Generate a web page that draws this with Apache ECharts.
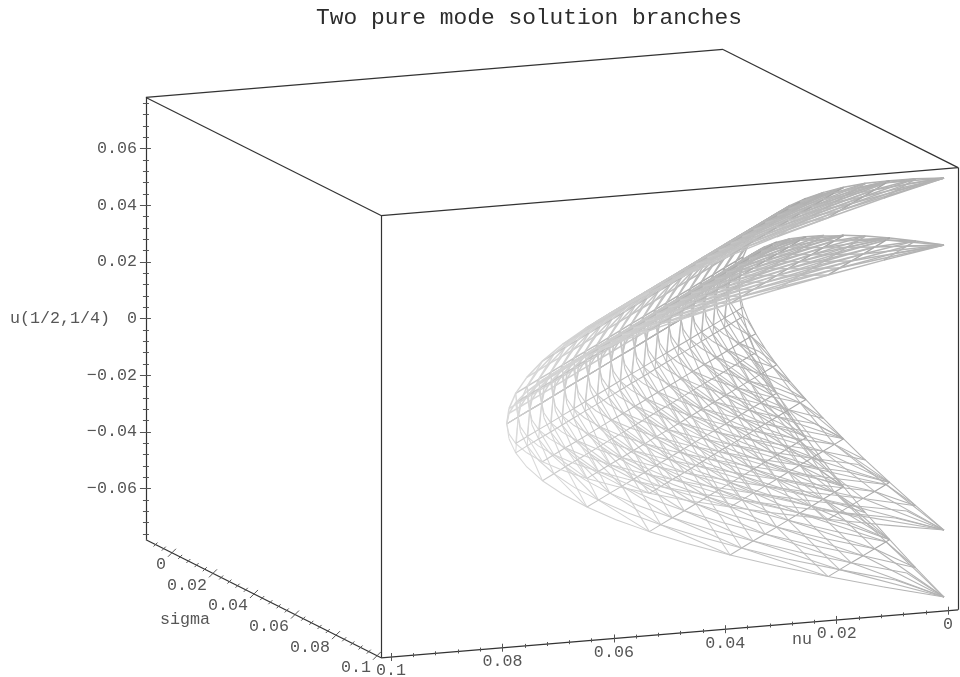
<!DOCTYPE html>
<html>
<head>
<meta charset="utf-8">
<style>html,body{margin:0;padding:0;background:#fff}#c{width:960px;height:677px}</style>
<script src="https://cdn.jsdelivr.net/npm/echarts@6/dist/echarts.min.js"></script>
</head>
<body>
<div id="c"></div>
<script>
// ---- values ----
const uTicks = [-0.06, -0.04, -0.02, 0, 0.02, 0.04, 0.06];
const uTickLabels = ['\u22120.06', '\u22120.04', '\u22120.02', '0', '0.02', '0.04', '0.06'];
const nuTicks = [0, 0.02, 0.04, 0.06, 0.08, 0.1];
const nuTickLabels = ['0', '0.02', '0.04', '0.06', '0.08', '0.1'];
const sigmaTicks = [0, 0.02, 0.04, 0.06, 0.08, 0.1];
const sigmaTickLabels = ['0', '0.02', '0.04', '0.06', '0.08', '0.1'];
const uMinor = [-0.076,-0.072,-0.068,-0.064,-0.056,-0.052,-0.048,-0.044,-0.036,-0.032,-0.028,-0.024,-0.016,-0.012,-0.008,-0.004,0.004,0.008,0.012,0.016,0.024,0.028,0.032,0.036,0.044,0.048,0.052,0.056,0.064,0.068,0.072,0.076];
const nuMinor = [0.004,0.008,0.012,0.016,0.024,0.028,0.032,0.036,0.044,0.048,0.052,0.056,0.064,0.068,0.072,0.076,0.084,0.088,0.092,0.096];
const sigmaMinor = [-0.008,-0.004,0.004,0.008,0.012,0.016,0.024,0.028,0.032,0.036,0.044,0.048,0.052,0.056,0.064,0.068,0.072,0.076,0.084,0.088,0.092,0.096];
const nuRange = [-0.0018, 0.1018];
const sigmaRange = [-0.0127, 0.102];
const uRange = [-0.078, 0.078];

// height of each row of the two branches (odd rows lie half way between contours)
const uOuter = [0, 0.0053, 0.0105, 0.0158, 0.0211, 0.0264, 0.0317, 0.0370, 0.0422, 0.0475, 0.0528, 0.0581, 0.0633, 0.0686, 0.0739];
const uInner = [0, 0.0036, 0.0072, 0.0108, 0.0144, 0.0180, 0.0216, 0.0252, 0.0287, 0.0323, 0.0359, 0.0395, 0.0431, 0.0467, 0.0503];
// sigma at which each row reaches nu = 0
const edgeSigma = [0, 0.0005, 0.0020, 0.0046, 0.0082, 0.0128, 0.0184, 0.0250, 0.0327, 0.0413, 0.0510, 0.0617, 0.0735, 0.0862, 0.1];
const sigmaGrid = [0.005,0.01,0.015,0.02,0.025,0.03,0.035,0.04,0.045,0.05,0.055,0.06,0.065,0.07,0.075,0.08,0.085,0.09,0.095,0.1];
// nu on each row at each sigmaGrid value (column)
const nuTable = [
 [.0039,.0079,.0118,.0157,.0196,.0236,.0275,.0314,.0353,.0393,.0432,.0471,.0510,.0550,.0589,.0628,.0667,.0707,.0746,.0785],
 [.0035,.0075,.0114,.0153,.0192,.0232,.0271,.0310,.0349,.0389,.0428,.0467,.0506,.0546,.0585,.0624,.0663,.0703,.0742,.0781],
 [.0023,.0063,.0102,.0141,.0180,.0220,.0259,.0298,.0337,.0377,.0416,.0455,.0494,.0534,.0573,.0612,.0651,.0691,.0730,.0769],
 [.0003,.0043,.0082,.0121,.0160,.0200,.0239,.0278,.0317,.0357,.0396,.0435,.0474,.0514,.0553,.0592,.0631,.0671,.0710,.0749],
 [null,.0015,.0054,.0093,.0132,.0172,.0211,.0250,.0289,.0329,.0368,.0407,.0446,.0486,.0525,.0564,.0603,.0643,.0682,.0721],
 [null,null,.0018,.0057,.0096,.0136,.0175,.0214,.0253,.0293,.0332,.0371,.0410,.0450,.0489,.0528,.0567,.0607,.0646,.0685],
 [null,null,null,.0013,.0052,.0092,.0131,.0170,.0209,.0249,.0288,.0327,.0366,.0406,.0445,.0484,.0523,.0563,.0602,.0641],
 [null,null,null,null,null,.0040,.0079,.0118,.0157,.0197,.0236,.0275,.0314,.0354,.0393,.0432,.0471,.0511,.0550,.0589],
 [null,null,null,null,null,null,.0019,.0058,.0097,.0137,.0176,.0215,.0254,.0294,.0333,.0372,.0411,.0451,.0490,.0529],
 [null,null,null,null,null,null,null,null,.0029,.0069,.0108,.0147,.0186,.0226,.0265,.0304,.0343,.0383,.0422,.0461],
 [null,null,null,null,null,null,null,null,null,null,.0031,.0070,.0109,.0149,.0188,.0227,.0266,.0306,.0345,.0384],
 [null,null,null,null,null,null,null,null,null,null,null,null,.0025,.0065,.0104,.0143,.0182,.0222,.0261,.0300],
 [null,null,null,null,null,null,null,null,null,null,null,null,null,null,.0012,.0051,.0090,.0130,.0169,.0208],
 [null,null,null,null,null,null,null,null,null,null,null,null,null,null,null,null,null,.0030,.0069,.0108],
 [null,null,null,null,null,null,null,null,null,null,null,null,null,null,null,null,null,null,null,null]
];
// how many sigmaGrid columns a line of constant nu moves between one contour and the next
const nuShift = [1, 1, 2, 3, 4, 4, 5];

// ---- view of the 3-D box on the page plane ----
const project = (nu, sigma, u) => [
  739 - 5570 * nu + 2050 * sigma,
  284.5 + 463 * nu + 1030 * sigma - 2835 * u
];
const TXT = '#2c2c2c', BOX = '#333';
const FONT = '"Liberation Mono", "DejaVu Sans Mono", monospace';

// ---- surface ----
function greyFor(nu, extra) {
  const g = Math.round(172 + 42 * Math.min(1, nu / 0.0785) + extra);
  return 'rgb(' + g + ',' + g + ',' + g + ')';
}
const meshSegs = [];
function seg(a, b, extra) {
  meshSegs.push({
    coords: [project(a.nu, a.s, a.u), project(b.nu, b.s, b.u)],
    lineStyle: { color: greyFor((a.nu + b.nu) / 2, extra), width: a.u > 0 || b.u > 0 ? 1.5 : 1.05 }
  });
}
[uOuter, uInner].forEach(levels => {
  [-1, 1].forEach(sign => {
    const rows = levels.map((h, r) => {
      const nodes = [{ m: -1, s: edgeSigma[r], nu: 0, u: sign * h }];
      nuTable[r].forEach((nu, m) => {
        if (nu !== null) nodes.push({ m, s: sigmaGrid[m], nu, u: sign * h });
      });
      return nodes;
    });
    rows.forEach((row, r) => {
      const major = r % 2 === 0;
      if (major || sign > 0) {
        for (let i = 0; i + 1 < row.length; i++) seg(row[i], row[i + 1], major ? -8 : 4);
      }
      if (r + 1 < rows.length) {
        const next = rows[r + 1];
        seg(row[0], next[0], 4);
        row.slice(1).forEach(n => seg(n, next.find(q => q.m === n.m) || next[0], 4));
      }
      if (major && r + 2 < rows.length) {
        const up = rows[r + 2];
        const shift = nuShift[r / 2];
        row.slice(1).forEach(n => {
          if (n.m + 1 < sigmaGrid.length) seg(n, up.find(q => q.m === n.m + 1) || up[0], 6);
          const target = up.find(q => q.m === n.m + shift);
          if (shift > 1 && target) seg(n, target, 10);
        });
      }
    });
  });
});

// ---- box and ticks ----
const [n0, n1] = nuRange, [s0, s1] = sigmaRange, [u0, u1] = uRange;
const boxEdges = [
  [[n1, s0, u1], [n1, s1, u1]], [[n1, s1, u1], [n0, s1, u1]], [[n0, s1, u1], [n0, s0, u1]], [[n0, s0, u1], [n1, s0, u1]],
  [[n1, s0, u1], [n1, s0, u0]], [[n1, s1, u1], [n1, s1, u0]], [[n0, s1, u1], [n0, s1, u0]],
  [[n1, s0, u0], [n1, s1, u0]], [[n1, s1, u0], [n0, s1, u0]]
].map(e => ({ coords: e.map(p => project(p[0], p[1], p[2])) }));

const tickSegs = [];
function tick(p, d1, d2) {
  tickSegs.push({ coords: [[p[0] + d1[0], p[1] + d1[1]], [p[0] + d2[0], p[1] + d2[1]]] });
}
uTicks.forEach(v => tick(project(n1, s0, v), [-6, 0], [5, 0]));
uMinor.forEach(v => tick(project(n1, s0, v), [-3, 0], [3, 0]));
nuTicks.forEach(v => tick(project(v, s1, u0), [0, -4], [0, 4]));
nuMinor.forEach(v => tick(project(v, s1, u0), [0, -2], [0, 2]));
sigmaTicks.forEach(v => tick(project(n1, v, u0), [-4, 4], [4, -4]));
sigmaMinor.forEach(v => tick(project(n1, v, u0), [-2, 2], [2, -2]));

// ---- text ----
const texts = [];
function text(p, str, dx, dy, align) {
  texts.push({ value: p, label: { show: true, formatter: str, offset: [dx, dy], align: align || 'center', verticalAlign: 'middle', position: 'inside' } });
}
uTicks.forEach((v, i) => text(project(n1, s0, v), uTickLabels[i], -9, 0, 'right'));
nuTicks.forEach((v, i) => text(project(v, s1, u0), nuTickLabels[i], 0, 14));
sigmaTicks.forEach((v, i) => text(project(n1, v, u0), sigmaTickLabels[i], -6, 12, 'right'));
text(project(n1, s0, 0), 'u(1/2,1/4)', -136, 0, 'left');
text([802, 640], 'nu', 0, 0);
text([185, 620], 'sigma', 0, 0);

const chart = echarts.init(document.getElementById('c'), null, { renderer: 'canvas' });
chart.setOption({
  animation: false,
  backgroundColor: '#fff',
  title: {
    text: 'Two pure mode solution branches',
    left: 524, top: 1, textAlign: 'center',
    textStyle: { fontFamily: FONT, fontSize: 22.9, fontWeight: 'normal', color: '#2c2c2c' }
  },
  grid: { left: 0, right: 0, top: 0, bottom: 0, containLabel: false },
  xAxis: { type: 'value', min: 0, max: 960, show: false },
  yAxis: { type: 'value', min: 0, max: 677, inverse: true, show: false },
  series: [
    { type: 'lines', coordinateSystem: 'cartesian2d', silent: true, lineStyle: { width: 1.05, opacity: 1 }, data: meshSegs, z: 2 },
    { type: 'lines', coordinateSystem: 'cartesian2d', silent: true, lineStyle: { width: 1.2, color: BOX, opacity: 1 }, data: boxEdges, z: 3 },
    { type: 'lines', coordinateSystem: 'cartesian2d', silent: true, lineStyle: { width: 1, color: '#555', opacity: 1 }, data: tickSegs, z: 3 },
    { type: 'scatter', silent: true, symbolSize: 0, data: texts, z: 4,
      label: { show: true, color: TXT, fontFamily: FONT, fontSize: 16.7 } }
  ]
});
</script>
</body>
</html>
